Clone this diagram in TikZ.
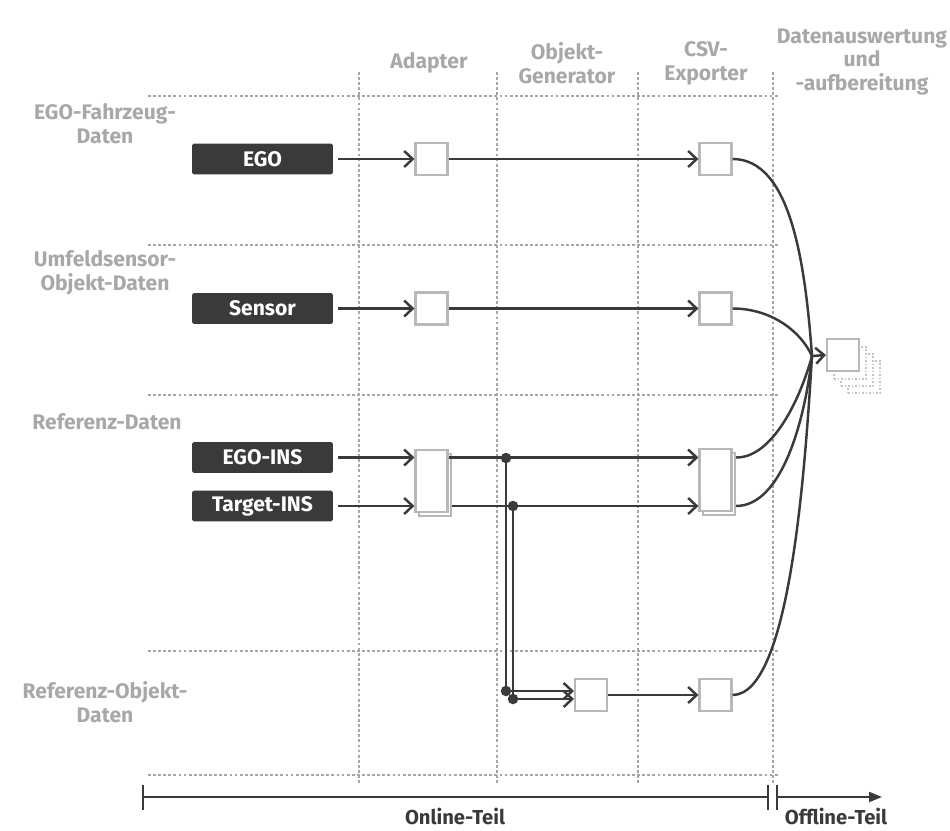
\documentclass[tikz,border=0pt]{standalone}
\usepackage{fontspec}
\setmainfont{Fira Sans}
\usetikzlibrary{arrows.meta,calc}
\definecolor{lbl}{HTML}{A8A8A8}
\definecolor{ink}{HTML}{3A3A3A}
\definecolor{boxdark}{HTML}{3A3A3A}
\definecolor{gridc}{HTML}{A6A6A6}
\definecolor{frame}{HTML}{B8B8B8}
\definecolor{faint}{HTML}{C4C4C4}
\tikzset{
  hdr/.style={text=lbl, font=\bfseries\fontsize{12}{13.6}\selectfont, align=center, inner sep=0},
  src/.style={fill=boxdark, rounded corners=1pt, text=white,
    font=\bfseries\fontsize{12}{14}\selectfont,
    minimum width=2.82cm, minimum height=0.62cm, inner sep=0},
  unit/.style={draw=frame, line width=1.2pt, fill=white,
    minimum width=0.64cm, minimum height=0.64cm, inner sep=0},
  tallunit/.style={unit, minimum height=1.24cm},
  ghost/.style={unit, draw=faint, line width=1pt, densely dotted},
  flow/.style={draw=ink, line width=1.4pt},
  arr/.style={flow, -{Straight Barb[length=0.17cm,width=0.32cm]}},
  guide/.style={draw=gridc, line width=0.9pt, dash pattern=on 1.6pt off 1.3pt},
  joint/.style={circle, fill=ink, minimum size=0.21cm, inner sep=0},
  axis/.style={draw=ink, line width=1.3pt},
  axlbl/.style={text=ink, font=\bfseries\fontsize{11.5}{13}\selectfont, inner sep=0}
}
\begin{document}
\begin{tikzpicture}[x=0.02cm,y=-0.02cm]
\useasboundingbox (0,0) rectangle (950,831);
\fill[white] (0,0) rectangle (950,831);

% column and row guides
\foreach \gx in {359,497,638,773} \draw[guide] (\gx,72) -- (\gx,785);
\foreach \gy in {96,245,395,651,775} \draw[guide] (148,\gy) -- (778,\gy);

% column headers
\node[hdr] (hAd) at (429,63) {Adapter};
\node[hdr] (hOG) at (567,63) {Objekt-\\Generator};
\node[hdr] (hCSV) at (706,63) {CSV-\\Exporter};
\node[hdr] (hDA) at (862,62) {Datenauswertung\\und\\-aufbereitung};

% row headers
\node[hdr] (rEgo) at (105,124) {EGO-Fahrzeug-\\Daten};
\node[hdr] (rSens) at (105,273) {Umfeldsensor-\\Objekt-Daten};
\node[hdr] (rRef) at (107,422) {Referenz-Daten};
\node[hdr] (rObj) at (105,702) {Referenz-Objekt-\\Daten};

% data sources
\node[src] (ego) at (262.5,159) {EGO};
\node[src] (sensor) at (262.5,308.5) {Sensor};
\node[src] (egoins) at (262.5,457.5) {EGO-INS};
\node[src] (tgtins) at (262.5,506) {Target-INS};

% adapter stage
\node[unit] (a1) at (431.5,159) {};
\node[unit] (a2) at (431.5,308.5) {};
\node[tallunit] (a3b) at (435,485) {};
\node[tallunit] (a3) at (431.5,481) {};

% object generator
\node[unit] (g4) at (591,695) {};

% CSV exporter stage
\node[unit] (c1) at (715.5,159) {};
\node[unit] (c2) at (715.5,308.5) {};
\node[tallunit] (c3b) at (719,484) {};
\node[tallunit] (c3) at (715.5,480) {};
\node[unit] (c4) at (715.5,695) {};

% evaluation result stack
\node[ghost] (o3) at (864,377) {};
\node[ghost] (o2) at (857,370) {};
\node[ghost] (o1) at (850,363) {};
\node[unit] (out) at (843,355) {};
\coordinate (join) at (812,356);

% source to adapter
\draw[arr, shorten <=0.1cm] (ego.east) -- (a1.west);
\draw[arr, shorten <=0.1cm] (sensor.east) -- (a2.west);
\draw[arr, shorten <=0.1cm] (egoins.east) -- (egoins.east -| a3.west);
\draw[arr, shorten <=0.1cm] (tgtins.east) -- (tgtins.east -| a3.west);

% adapter to exporter
\draw[arr] (a1.east) -- (c1.west);
\draw[arr] (a2.east) -- (c2.west);
\draw[arr] (egoins.east -| a3.east) -- (egoins.east -| c3.west);
\draw[arr] (tgtins.east -| a3b.east) -- (tgtins.east -| c3.west);

% branches into the object generator
\node[joint] (d1) at (506,458) {};
\node[joint] (d2) at (513,506) {};
\node[joint] (d3) at (506,691) {};
\node[joint] (d4) at (513,699) {};
\draw[flow] (d1.center) -- (d3.center);
\draw[flow] (d2.center) -- (d4.center);
\draw[arr] (d3.center) -- (d3.center -| g4.west);
\draw[arr] (d4.center) -- (d4.center -| g4.west);
\draw[arr] (g4.east) -- (c4.west);

% exporter outputs merging into evaluation
\draw[flow] (c1.east) .. controls (790,159) and (805,260) .. (join);
\draw[flow] (c2.east) .. controls (770,308.5) and (800,330) .. (join);
\draw[flow] (egoins.east -| c3b.east) .. controls (772,458) and (800,400) .. (join);
\draw[flow] (tgtins.east -| c3b.east) .. controls (782,506) and (805,420) .. (join);
\draw[flow] (c4.east) .. controls (790,695) and (805,470) .. (join);
\draw[arr] (join) -- (out.west);

% time axis
\coordinate (ax0) at (143,797);
\coordinate (ax1) at (768,797);
\coordinate (ax2) at (777,797);
\coordinate (ax3) at (882,797);
\draw[axis] (ax0) -- (ax1);
\draw[axis, -{Triangle[length=0.26cm,width=0.2cm]}] (ax2) -- (ax3);
\foreach \t in {ax0,ax1,ax2} \draw[axis] ($(\t)+(0,-12)$) -- ($(\t)+(0,13)$);
\node[axlbl] (onl) at (455,816) {Online-Teil};
\node[axlbl] (offl) at (836,816) {Offline-Teil};
\end{tikzpicture}
\end{document}
